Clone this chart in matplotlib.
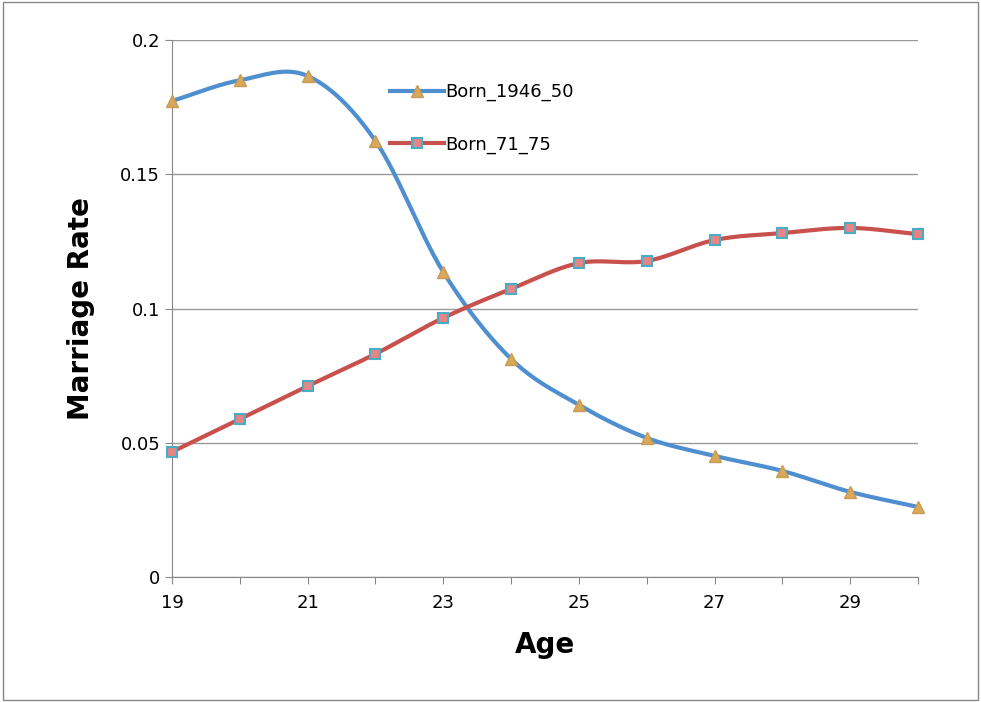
import numpy as np
import matplotlib.pyplot as plt

ages = [19, 20, 21, 22, 23, 24, 25, 26, 27, 28, 29, 30]
born_1946_50 = [0.1773, 0.185, 0.1866, 0.1624, 0.1136, 0.0812, 0.0641, 0.0518, 0.0451, 0.0395, 0.0317, 0.0261]
born_71_75 = [0.0466, 0.0588, 0.0711, 0.0831, 0.0965, 0.1073, 0.1169, 0.1177, 0.1255, 0.1281, 0.13, 0.1277]


def smooth(x, y, n=30):
    # Catmull-Rom spline through the points, like Excel's smoothed lines
    x = np.asarray(x, float)
    y = np.asarray(y, float)
    px = np.concatenate([[2 * x[0] - x[1]], x, [2 * x[-1] - x[-2]]])
    py = np.concatenate([[2 * y[0] - y[1]], y, [2 * y[-1] - y[-2]]])
    xs, ys = [], []
    t = np.linspace(0, 1, n)
    for i in range(1, len(px) - 2):
        for p, out in ((px, xs), (py, ys)):
            p0, p1, p2, p3 = p[i - 1], p[i], p[i + 1], p[i + 2]
            out.extend(0.5 * (2 * p1 + (-p0 + p2) * t + (2 * p0 - 5 * p1 + 4 * p2 - p3) * t ** 2
                              + (-p0 + 3 * p1 - 3 * p2 + p3) * t ** 3))
    return xs, ys


fig = plt.figure(figsize=(9.81, 7.02), dpi=100)
fig.patches.append(plt.Rectangle((0.003, 0.003), 0.994, 0.994, transform=fig.transFigure,
                                 fill=False, edgecolor='#888888', linewidth=1))
ax = fig.add_axes([172 / 981, 1 - 577 / 702, (918 - 172) / 981, (577 - 40) / 702])

blue = '#4f8fd0'
red = '#c8504d'
tri = dict(marker='^', markersize=8, markerfacecolor='#d9a95a', markeredgecolor='#c89a55')
sq = dict(marker='s', markersize=7, markerfacecolor='#e58585', markeredgecolor='#4bacc6',
          markeredgewidth=1.5)
sx, sy = smooth(ages, born_1946_50)
ax.plot(sx, sy, color=blue, linewidth=3, zorder=2)
sx, sy = smooth(ages, born_71_75)
ax.plot(sx, sy, color=red, linewidth=3, zorder=2)
ax.plot(ages, born_1946_50, linestyle='none', zorder=3, clip_on=False, **tri)
ax.plot(ages, born_71_75, linestyle='none', zorder=3, clip_on=False, **sq)

# legend entries
ax.plot([], [], color=blue, linewidth=3, label='Born_1946_50', **tri)
ax.plot([], [], color=red, linewidth=3, label='Born_71_75', **sq)
ax.legend(loc='upper left', bbox_to_anchor=(0.27, 0.95), frameon=False, fontsize=13,
          handlelength=3, handletextpad=0.1, labelspacing=1.9)

ax.set_xlim(19, 30)
ax.set_ylim(0, 0.2)
ax.set_xticks(range(19, 31))
ax.set_xticklabels([str(a) if a % 2 == 1 else '' for a in ages])
ax.set_yticks([0, 0.05, 0.1, 0.15, 0.2])
ax.set_yticklabels(['0', '0.05', '0.1', '0.15', '0.2'])
ax.tick_params(labelsize=13, direction='out', length=5, color='#888888')
ax.tick_params(axis='x', pad=7)
ax.yaxis.grid(True, color='#999999', linewidth=1)
ax.set_axisbelow(True)
for s in ['top', 'right']:
    ax.spines[s].set_visible(False)
for s in ['left', 'bottom']:
    ax.spines[s].set_color('#888888')
ax.set_xlabel('Age', fontsize=20, fontweight='bold', labelpad=14)
ax.set_ylabel('Marriage Rate', fontsize=20, fontweight='bold', labelpad=18)

fig.savefig('out.png', dpi=100)
